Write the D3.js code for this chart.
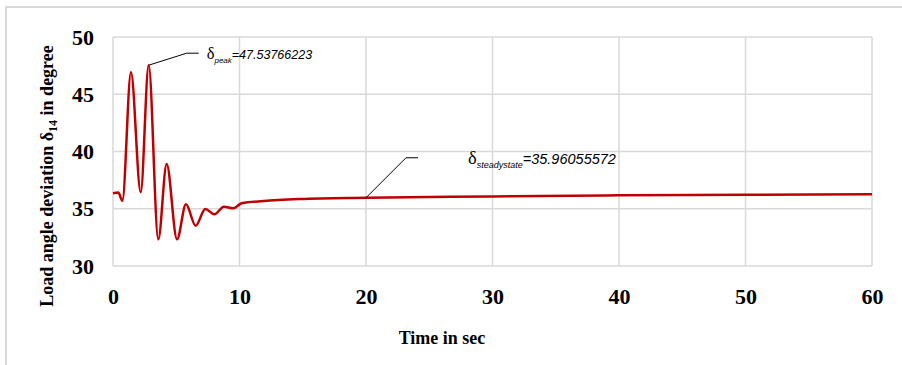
<!DOCTYPE html>
<html>
<head>
<meta charset="utf-8">
<script src="https://cdn.jsdelivr.net/npm/d3@7/dist/d3.min.js"></script>
<style>
  html, body { margin: 0; padding: 0; background: #fff; }
  svg { display: block; }
</style>
</head>
<body>
<svg id="chart" width="902" height="365"></svg>
<script>
// Load angle response of generator 14 after the disturbance
const timeSec = [0, 0.42, 0.74, 1.42, 2.19, 2.82, 3.58, 4.24, 5.06, 5.77, 6.53, 7.3, 8.01, 8.77, 9.51, 10.17, 11.9, 14.78, 20, 25, 30, 40, 50, 60];
const deltaDeg = [36.35, 36.42, 35.7, 46.92, 36.44, 47.53766223, 32.33, 38.91, 32.33, 35.39, 33.52, 34.98, 34.51, 35.18, 35.04, 35.48, 35.68, 35.85, 35.96055572, 36.03, 36.08, 36.17, 36.22, 36.26];

const xTicks = [0, 10, 20, 30, 40, 50, 60];
const yTicks = [30, 35, 40, 45, 50];

const peakTime = 2.82, peakValue = 47.53766223;
const steadyTime = 20, steadyValue = 35.96055572;

const svg = d3.select("#chart");
const W = 902, H = 365;
const m = { left: 113, top: 37, right: 30, bottom: 99 };
const pw = W - m.left - m.right, ph = H - m.top - m.bottom;

// outer frame
svg.append("rect")
  .attr("x", 6).attr("y", 7).attr("width", 1000).attr("height", 500)
  .attr("fill", "none").attr("stroke", "#d9d9d9").attr("stroke-width", 2);

const x = d3.scaleLinear().domain([0, 60]).range([m.left, m.left + pw]);
const y = d3.scaleLinear().domain([30, 50]).range([m.top + ph, m.top]);

const grid = svg.append("g").attr("stroke", "#d9d9d9").attr("stroke-width", 1.5);
grid.selectAll("line.v").data(xTicks).join("line")
  .attr("x1", d => x(d)).attr("x2", d => x(d))
  .attr("y1", y(30)).attr("y2", y(50));
grid.selectAll("line.h").data(yTicks).join("line")
  .attr("x1", x(0)).attr("x2", x(60))
  .attr("y1", d => y(d)).attr("y2", d => y(d));

// tick labels via d3 axes (domain/tick lines hidden)
const xAxis = svg.append("g")
  .attr("transform", `translate(0,${y(30)})`)
  .call(d3.axisBottom(x).tickValues(xTicks).tickSize(0).tickPadding(22).tickFormat(d3.format("d")));
const yAxis = svg.append("g")
  .attr("transform", `translate(${x(0)},0)`)
  .call(d3.axisLeft(y).tickValues(yTicks).tickSize(0).tickPadding(19).tickFormat(d3.format("d")));
[xAxis, yAxis].forEach(a => {
  a.select(".domain").remove();
  a.selectAll("text")
    .attr("font-family", "'Liberation Serif', 'Times New Roman', serif")
    .attr("font-weight", "bold").attr("font-size", 22).attr("fill", "#000");
});

// axis titles
svg.append("text")
  .attr("x", 442).attr("y", 344)
  .attr("text-anchor", "middle")
  .attr("font-family", "'Liberation Serif', 'Times New Roman', serif")
  .attr("font-weight", "bold").attr("font-size", 18).attr("fill", "#000")
  .text("Time in sec");

const yt = svg.append("text")
  .attr("transform", "translate(53,176) rotate(-90)")
  .attr("text-anchor", "middle")
  .attr("font-family", "'Liberation Serif', 'Times New Roman', serif")
  .attr("font-weight", "bold").attr("font-size", 18).attr("fill", "#000");
yt.append("tspan").text("Load angle deviation δ");
yt.append("tspan").attr("font-size", 12).attr("dy", 4).text("14");
yt.append("tspan").attr("dy", -4).text(" in degree");

// response curve
const pts = timeSec.map((t, i) => [t, deltaDeg[i]]);
svg.append("path")
  .datum(pts)
  .attr("fill", "none").attr("stroke", "#c00000").attr("stroke-width", 2.5)
  .attr("stroke-linejoin", "round")
  .attr("d", d3.line().x(d => x(d[0])).y(d => y(d[1])).curve(d3.curveMonotoneX));

// annotations: leader line from the point, then a label
function callout(t, v, dx, dy, hx, gap, sub, subSize, valueText, valSize) {
  const px = x(t), py = y(v);
  const ex = px + dx, ey = py + dy;
  svg.append("path")
    .attr("d", `M${px},${py}L${ex},${ey}L${ex + hx},${ey}`)
    .attr("fill", "none").attr("stroke", "#000").attr("stroke-width", 1);
  const tx = svg.append("text")
    .attr("x", ex + hx + gap).attr("y", ey + 6)
    .attr("fill", "#000");
  tx.append("tspan")
    .attr("font-family", "'Liberation Serif', serif")
    .attr("font-size", valSize + 4).text("δ");
  tx.append("tspan")
    .attr("font-family", "'Liberation Sans', sans-serif").attr("font-style", "italic")
    .attr("font-size", subSize).attr("dy", 4).text(sub);
  tx.append("tspan")
    .attr("font-family", "'Liberation Sans', sans-serif").attr("font-style", "italic")
    .attr("font-size", valSize).attr("dy", -4).text("=" + valueText);
}
callout(peakTime, peakValue, 38, -12, 12, 8, "peak", 8, "47.53766223", 12.5);
callout(steadyTime, steadyValue, 40, -40, 12, 50, "steadystate", 9, "35.96055572", 14.5);
</script>
</body>
</html>
